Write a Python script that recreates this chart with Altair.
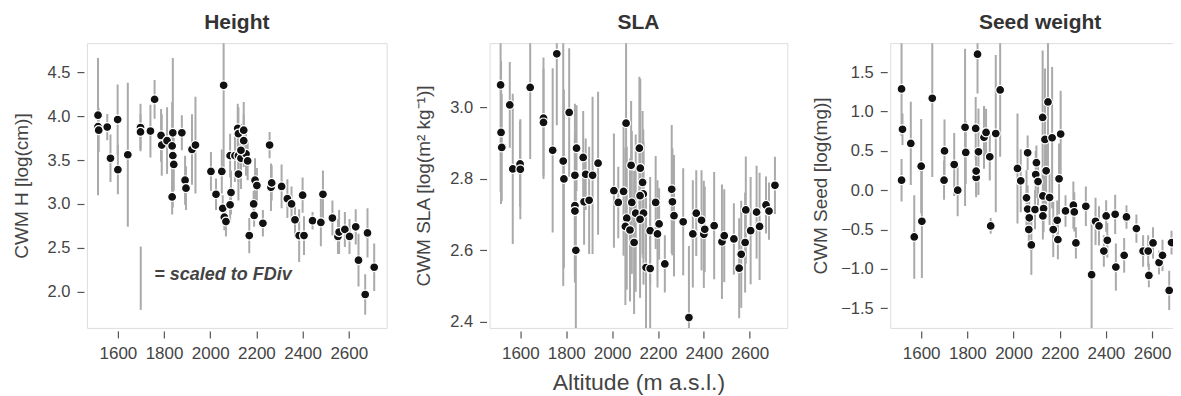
import altair as alt
import pandas as pd

FONT = "Liberation Sans"

# ---------------- data ----------------
# Height panel: altitude, CWM H, half-length of FDiv bar
h_alt = [1514, 1514, 1517, 1554, 1599, 1568, 1600, 1643, 1698, 1698, 1741, 1759, 1787, 1790,
         1813, 1838, 1835, 1838, 1842, 1835, 1877, 1891, 1895, 1921, 1936, 2003, 2025, 2050,
         2058, 2054, 2061, 2068, 2090, 2086, 2086, 2107, 2119, 2122, 2145, 2145, 2122, 2133,
         2155, 2162, 2122, 2133, 2169, 2188, 2190, 2194, 2202, 2228, 2257, 2263, 2266, 2309,
         2334, 2352, 2367, 2385, 2406, 2400, 2443, 2479, 2488, 2529, 2553, 2558, 2583, 2603,
         2630, 2642, 2681, 2671, 2710]
h_val = [4.01, 3.88, 3.84, 3.875, 3.96, 3.52, 3.39, 3.56, 3.87, 3.82, 3.83, 4.19, 3.78, 3.67,
         3.72, 3.81, 3.66, 3.55, 3.45, 3.08, 3.81, 3.27, 3.18, 3.62, 3.67, 3.37, 3.11, 3.37,
         4.35, 2.95, 2.85, 2.80, 3.13, 2.99, 3.55, 3.55, 3.86, 3.80, 3.84, 3.72, 3.55, 3.52,
         3.57, 3.49, 3.34, 3.61, 2.64, 3.00, 2.87, 3.27, 3.21, 2.78, 3.67, 3.19, 3.24, 3.20,
         3.06, 3.00, 2.82, 2.64, 2.64, 3.10, 2.81, 2.79, 3.11, 2.84, 2.63, 2.68, 2.71, 2.63,
         2.74, 2.36, 2.67, 1.97, 2.28]
h_err = [0.20, 0.78, 0.25, 0.15, 0.40, 0.27, 0.28, 0.82, 0.27, 0.20, 0.30, 0.22, 0.30, 0.35,
         0.38, 0.85, 0.50, 0.30, 0.30, 0.20, 0.20, 0.28, 0.25, 0.40, 0.55, 0.22, 0.18, 0.25,
         1.00, 0.15, 0.15, 0.17, 0.25, 0.20, 0.25, 0.30, 0.28, 0.30, 0.32, 0.30, 0.30, 0.35,
         0.25, 0.22, 0.30, 0.30, 0.20, 0.15, 0.13, 0.25, 0.20, 0.15, 0.15, 0.27, 0.20, 0.25,
         0.22, 0.20, 0.20, 0.30, 0.22, 0.20, 0.10, 0.27, 0.27, 0.20, 0.20, 0.25, 0.20, 0.20,
         0.20, 0.30, 0.28, 0.23, 0.27]

# SLA panel
s_alt = [1514, 1516, 1519, 1554, 1567, 1599, 1600, 1643, 1701, 1701, 1741, 1759, 1787, 1790,
         1813, 1838, 1838, 1838, 1842, 1845, 1874, 1885, 1915, 1878, 1900, 1939, 2008, 2027,
         2050, 2061, 2064, 2058, 2078, 2086, 2096, 2103, 2083, 2119, 2123, 2133, 2136, 2122,
         2137, 2122, 2148, 2166, 2166, 2190, 2198, 2205, 2230, 2260, 2263, 2270, 2310, 2335,
         2352, 2367, 2390, 2400, 2404, 2445, 2479, 2489, 2531, 2554, 2563, 2580, 2583, 2604,
         2630, 2643, 2671, 2684, 2710]
s_val = [3.063, 2.930, 2.888, 3.007, 2.828, 2.842, 2.827, 3.056, 2.970, 2.958, 2.880, 3.150,
         2.850, 2.800, 2.986, 2.810, 2.725, 2.710, 2.600, 2.886, 2.860, 2.813, 2.810, 2.736,
         2.740, 2.844, 2.767, 2.734, 2.765, 2.956, 2.690, 2.667, 2.657, 2.734, 2.622, 2.704,
         2.838, 2.886, 2.830, 2.790, 2.758, 2.753, 2.704, 2.687, 2.552, 2.549, 2.655, 2.734,
         2.646, 2.674, 2.562, 2.771, 2.736, 2.697, 2.680, 2.412, 2.646, 2.704, 2.684, 2.645,
         2.659, 2.669, 2.624, 2.641, 2.632, 2.550, 2.589, 2.622, 2.713, 2.655, 2.707, 2.667,
         2.727, 2.710, 2.782]
s_err = [0.30, 0.20, 0.15, 0.12, 0.21, 0.12, 0.14, 0.20, 0.17, 0.15, 0.23, 0.20, 0.35, 0.25,
         0.18, 0.20, 0.20, 0.20, 0.23, 0.12, 0.13, 0.10, 0.22, 0.12, 0.15, 0.20, 0.16, 0.10,
         0.18, 0.25, 0.20, 0.22, 0.20, 0.20, 0.20, 0.22, 0.18, 0.20, 0.25, 0.20, 0.18, 0.20,
         0.20, 0.22, 0.20, 0.18, 0.15, 0.13, 0.15, 0.10, 0.08, 0.18, 0.15, 0.17, 0.15, 0.20,
         0.15, 0.12, 0.14, 0.15, 0.12, 0.15, 0.16, 0.13, 0.10, 0.14, 0.15, 0.14, 0.15, 0.15,
         0.13, 0.15, 0.08, 0.08, 0.08]

# Seed weight panel
w_alt = [1515, 1519, 1515, 1555, 1570, 1600, 1603, 1648, 1701, 1699, 1743, 1758, 1790, 1793,
         1836, 1848, 1838, 1838, 1844, 1872, 1881, 1897, 1901, 1923, 1942, 2017, 2031, 2061,
         2056, 2061, 2068, 2066, 2077, 2093, 2099, 2096, 2106, 2126, 2149, 2136, 2167, 2141,
         2127, 2130, 2127, 2156, 2204, 2197, 2189, 2172, 2192, 2225, 2259, 2263, 2270, 2313,
         2338, 2355, 2370, 2391, 2406, 2401, 2440, 2443, 2479, 2489, 2532, 2561, 2583, 2586,
         2604, 2630, 2645, 2674, 2684, 2710]
w_val = [1.288, 0.774, 0.128, 0.595, -0.594, 0.306, -0.395, 1.169, 0.500, 0.128, 0.327, 0.000,
         0.800, 0.480, 0.786, 0.489, 0.162, 0.243, 1.730, 0.672, 0.735, 0.425, -0.454, 0.720,
         1.275, 0.277, 0.120, 0.476, -0.097, -0.240, -0.350, -0.500, -0.696, -0.246, 0.350,
         0.200, 0.110, 0.926, 1.122, 0.646, 0.667, 0.247, -0.072, -0.233, -0.327, -0.093,
         0.714, 0.145, -0.382, -0.500, -0.628, -0.263, -0.190, -0.276, -0.670, -0.204, -1.074,
         -0.395, -0.454, -0.773, -0.637, -0.327, -0.306, -0.977, -0.828, -0.340, -0.488,
         -0.773, -0.773, -1.083, -0.670, -0.920, -0.828, -1.274, -0.666, -1.635]
w_err = [0.60, 0.20, 0.27, 0.53, 0.53, 0.60, 0.72, 1.00, 0.40, 0.25, 0.40, 0.33, 1.00, 0.40,
         0.40, 0.55, 0.25, 0.30, 0.50, 0.40, 0.30, 0.30, 0.10, 1.00, 0.85, 0.70, 0.40, 0.22,
         0.35, 0.30, 0.25, 0.20, 0.38, 0.25, 0.22, 0.30, 0.30, 0.85, 0.90, 0.90, 0.90, 0.45,
         0.30, 0.30, 0.30, 0.35, 0.55, 0.45, 0.25, 0.35, 0.25, 0.20, 0.30, 0.25, 0.20, 0.25,
         0.70, 0.30, 0.25, 0.20, 0.22, 0.20, 0.25, 0.30, 0.22, 0.15, 0.18, 0.20, 0.20, 0.15,
         0.20, 0.15, 0.20, 0.25, 0.15, 0.30]

x_ticks = [1600, 1800, 2000, 2200, 2400, 2600]
x_domain = [1466, 2764]

h_ticks = [2.0, 2.5, 3.0, 3.5, 4.0, 4.5]
s_ticks = [2.4, 2.6, 2.8, 3.0]
w_ticks = [-1.5, -1.0, -0.5, 0.0, 0.5, 1.0, 1.5]

legend_alt = [1699]
legend_lo = [1.795]
legend_hi = [2.515]
legend_text = ["= scaled to FDiv"]
legend_text_alt = [1758]
legend_text_val = [2.19]

# ---------------- chart ----------------
BAR = "#aaaaaa"
TXT = "#444444"


def frame(a, v, e):
    return pd.DataFrame({"alt": a, "val": v,
                         "lo": [vi - ei for vi, ei in zip(v, e)],
                         "hi": [vi + ei for vi, ei in zip(v, e)]})


def panel(df, title, ytitle, ydom, yticks, ext, tpad, xtitle=None, width=300, extra=None):
    xaxis_kw = dict(values=x_ticks, format="d", tickSize=7, offset=3, domain=False,
                    labelPadding=8, labelFontSize=17, labelColor=TXT, labelFont=FONT,
                    tickColor="#555555", tickWidth=1.2, grid=False, labelOverlap=False)
    if xtitle:
        xaxis_kw.update(title=xtitle, titleFontSize=23, titleFontWeight="normal",
                        titleColor=TXT, titleFont=FONT, titlePadding=10)
    else:
        xaxis_kw.update(title="")
    xscale = alt.Scale(domain=x_domain, nice=False, zero=False)
    yscale = alt.Scale(domain=ydom, nice=False, zero=False)
    yaxis = alt.Axis(values=yticks, format=".1f", tickSize=7, offset=3, domain=False,
                     labelPadding=7, labelFontSize=16.5, labelColor=TXT, labelFont=FONT,
                     tickColor="#555555", tickWidth=1.2, grid=False, title=ytitle,
                     titleFontSize=19, titleFontWeight="normal", titleColor=TXT,
                     titleFont=FONT, titlePadding=tpad, minExtent=ext, maxExtent=ext)
    xaxis = alt.Axis(**xaxis_kw)
    base = alt.Chart(df)
    bars = base.mark_rule(color=BAR, strokeWidth=2, clip=True).encode(
        x=alt.X("alt:Q", scale=xscale, axis=xaxis),
        y=alt.Y("lo:Q", scale=yscale, axis=yaxis),
        y2="hi:Q")
    pts = base.mark_circle(size=80, color="#111111", opacity=1, stroke="white",
                           strokeWidth=1.2).encode(
        x=alt.X("alt:Q", scale=xscale, axis=xaxis),
        y=alt.Y("val:Q", scale=yscale, axis=yaxis))
    layers = [bars, pts]
    if extra is not None:
        layers += extra(xscale, yscale, xaxis, yaxis)
    return alt.layer(*layers).properties(
        width=width, height=285,
        title=alt.TitleParams(title, fontSize=21, fontWeight="bold", color="#333333",
                              font=FONT, offset=10))


def legend_layers(xscale, yscale, xaxis, yaxis):
    ldf = pd.DataFrame({"alt": legend_alt, "lo": legend_lo, "hi": legend_hi})
    tdf = pd.DataFrame({"alt": legend_text_alt, "val": legend_text_val, "t": legend_text})
    rule = alt.Chart(ldf).mark_rule(color=BAR, strokeWidth=2).encode(
        x=alt.X("alt:Q", scale=xscale, axis=xaxis),
        y=alt.Y("lo:Q", scale=yscale, axis=yaxis), y2="hi:Q")
    txt = alt.Chart(tdf).mark_text(align="left", baseline="middle", fontSize=18,
                                   fontWeight="bold", fontStyle="italic", font=FONT,
                                   color=TXT).encode(
        x=alt.X("alt:Q", scale=xscale, axis=xaxis),
        y=alt.Y("val:Q", scale=yscale, axis=yaxis), text="t:N")
    return [rule, txt]


p1 = panel(frame(h_alt, h_val, h_err), "Height", "CWM H [log(cm)]", [1.59, 4.83], h_ticks,
           38, 14, extra=legend_layers)
p2 = panel(frame(s_alt, s_val, s_err), "SLA", "CWM SLA [log(m\u00b2 kg\u207b\u00b9)]",
           [2.383, 3.18], s_ticks, 38, 15, xtitle="Altitude (m a.s.l.)", width=298)
p3 = panel(frame(w_alt, w_val, w_err), "Seed weight", "CWM Seed [log(mg)]", [-1.75, 1.87],
           w_ticks, 43, 14)

chart = alt.hconcat(p1, p2, p3, spacing=103, bounds="flush",
                    padding={"left": 4, "top": 3, "right": -18, "bottom": 0}).configure_view(
    stroke="#555555", strokeWidth=1.5).configure(background="white")

chart.save("out.html", embed_options={"renderer": "svg", "actions": False})
